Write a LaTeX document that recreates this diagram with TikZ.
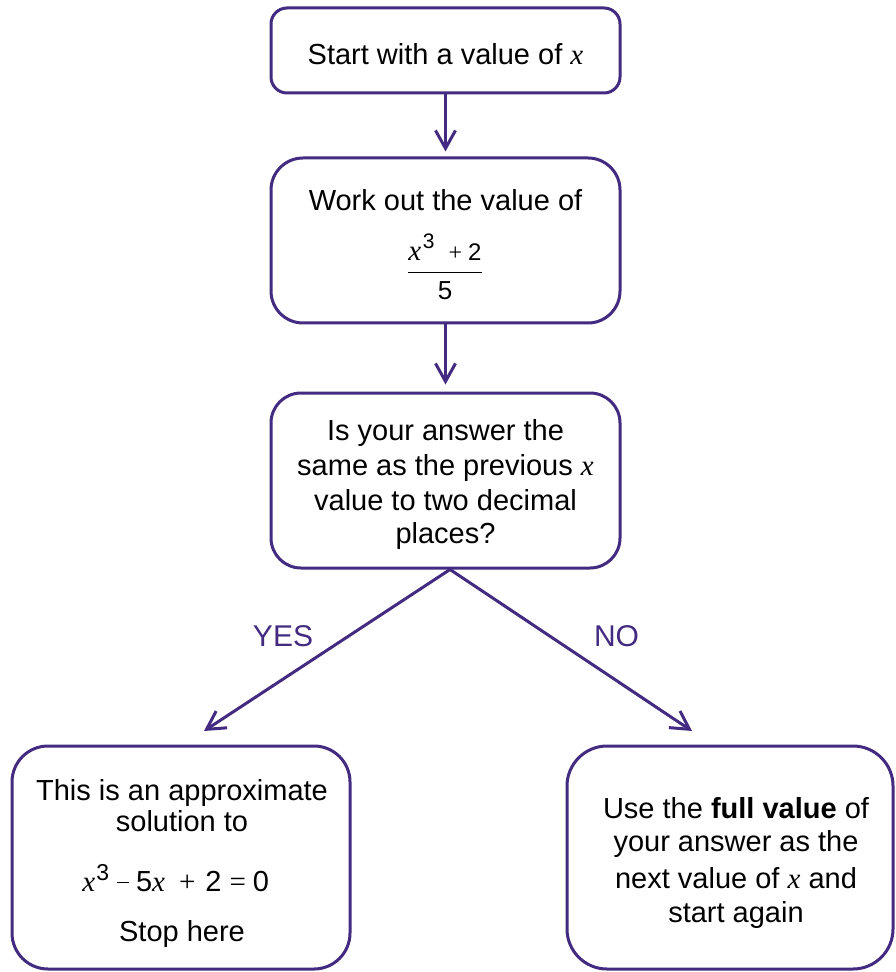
\documentclass[tikz,border=0pt]{standalone}
\usepackage{fontspec}
\setmainfont{Liberation Sans}
\newfontfamily\serifx{Liberation Serif}
\usetikzlibrary{arrows.meta}
\definecolor{flowpurple}{RGB}{66,43,128}
\newcommand{\vx}{{\serifx\itshape x}}
\begin{document}
\begin{tikzpicture}[x=0.5pt,y=-0.5pt,
  flowbox/.style={draw=flowpurple,line width=1.5pt,fill=white,inner sep=0pt},
  txt/.style={anchor=base,inner sep=0pt,font=\fontsize{14.5}{17}\selectfont},
  lbl/.style={anchor=base,inner sep=0pt,text=flowpurple,font=\fontsize{15}{18}\selectfont},
  flowarrow/.style={draw=flowpurple,line width=1.5pt,-{Straight Barb[length=9pt,width=10pt]}}]
\useasboundingbox (0,0) rectangle (895,972);

% boxes
\node[flowbox,minimum width=174.5pt,minimum height=42.5pt,rounded corners=8pt] (B1) at (445.5,50.5) {};
\node[flowbox,minimum width=174.5pt,minimum height=82.5pt,rounded corners=16pt] (B2) at (445.5,240.5) {};
\node[flowbox,minimum width=174.5pt,minimum height=87.5pt,rounded corners=15pt] (B3) at (445.5,480.5) {};
\node[flowbox,minimum width=169pt,minimum height=111.5pt,rounded corners=18pt] (B4) at (181,857.5) {};
\node[flowbox,minimum width=163pt,minimum height=111.5pt,rounded corners=20pt] (B5) at (730,857.5) {};

% box texts
\node[txt] (t1) at (445.5,65) {Start with a value of \vx};

\node[txt] (t2a) at (445.5,211) {Work out the value of};
\node[txt] (t2b) at (445,280) {$\displaystyle\frac{\mbox{\vx\hspace{0.8pt}\raisebox{6pt}{\fontsize{10.5}{10}\selectfont 3}\hspace{7pt}{\serifx\fontsize{12}{12}\selectfont +}\hspace{3pt}{\fontsize{12}{12}\selectfont 2}}}{\mbox{\fontsize{13}{13}\selectfont 5}}$};

\node[txt] (t3a) at (445.5,440) {Is your answer the};
\node[txt] (t3b) at (445.5,475.7) {same as the previous \vx};
\node[txt] (t3c) at (445.5,510) {value to two decimal};
\node[txt] (t3d) at (445.5,543.3) {places?};

\node[txt] (t4a) at (182,800) {This is an approximate};
\node[txt] (t4b) at (182,831.7) {solution to};
\node[txt,anchor=base west] (t4c) at (82,891.5) {\vx\hspace{0.5pt}\raisebox{5.5pt}{\fontsize{11.5}{11}\selectfont 3}\hspace{4pt}\rule[4.2pt]{6pt}{0.8pt}\hspace{3.5pt}5\vx\hspace{7pt}{\serifx +}\hspace{5pt}2\hspace{4pt}{\serifx =}\hspace{3.5pt}0};
\node[txt] (t4d) at (182,941.7) {Stop here};

\node[txt] (t5a) at (736,818) {Use the \textbf{full value} of};
\node[txt] (t5b) at (736,851.7) {your answer as the};
\node[txt] (t5c) at (736,888) {next value of \vx\ and};
\node[txt] (t5d) at (736,922.7) {start again};

% connectors
\coordinate (ty) at (204,731);
\coordinate (tn) at (692,731);
\draw[flowarrow,shorten >=2.5pt] (B1.south) -- (B2.north);
\draw[flowarrow,shorten >=3.5pt] (B2.south) -- (B3.north);
\draw[flowarrow] ([xshift=2.25pt]B3.south) -- (ty);
\draw[flowarrow] ([xshift=2.25pt]B3.south) -- (tn);

% labels
\node[lbl] (yes) at (283,646.5) {YES};
\node[lbl] (no) at (616.5,646) {NO};
\end{tikzpicture}
\end{document}
